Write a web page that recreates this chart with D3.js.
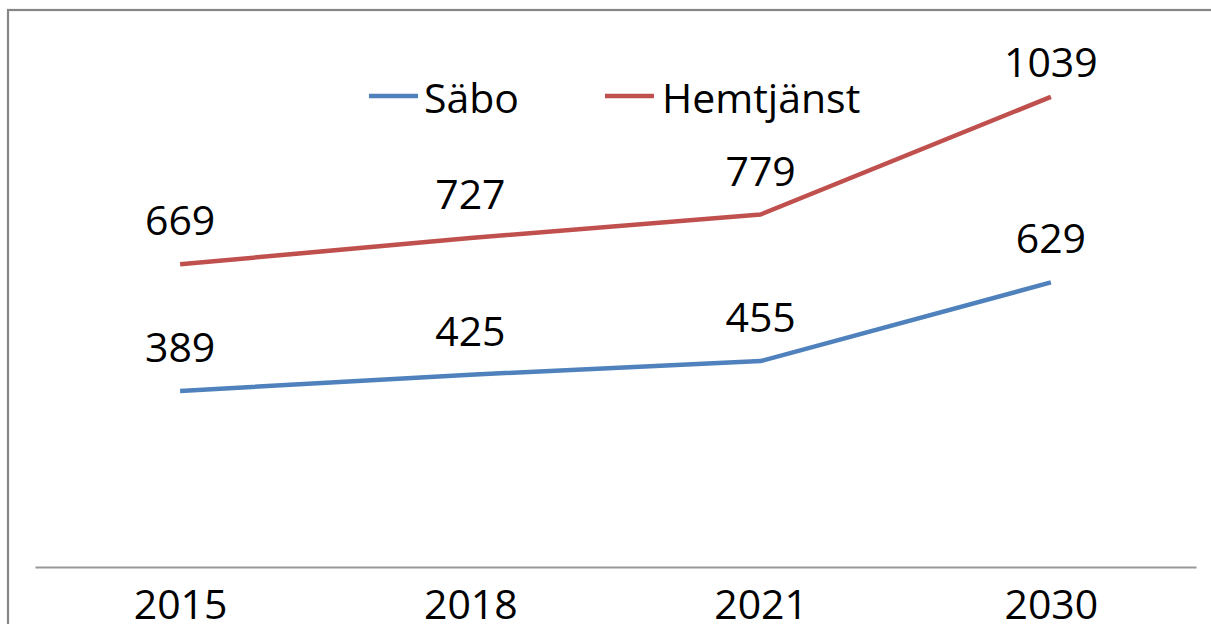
<!DOCTYPE html>
<html>
<head>
<meta charset="utf-8">
<script src="https://cdn.jsdelivr.net/npm/d3@7"></script>
<style>
html,body{margin:0;padding:0;background:#fff;overflow:hidden;}
svg{display:block;}
text{font-family:"Open Sans","Noto Sans",sans-serif;fill:#000;}
</style>
</head>
<body>
<script>
const categories = ["2015", "2018", "2021", "2030"];
const sabo = [389, 425, 455, 629];
const hemtjanst = [669, 727, 779, 1039];
const seriesNames = ["Säbo", "Hemtjänst"];
const seriesColors = ["#4F81BD", "#C0504D"];

const W = 1211, H = 624;
const svg = d3.select("body").append("svg").attr("width", W).attr("height", H);

// chart border
svg.append("rect").attr("x", 8).attr("y", 10).attr("width", 1240).attr("height", 700)
  .attr("fill", "none").attr("stroke", "#868686").attr("stroke-width", 2.2);

const x = d3.scalePoint().domain(categories).range([35, 1196]).padding(0.5);
const y = d3.scaleLinear().domain([0, 1200]).range([567, 24]);

const FS = 41;

// x axis
const ax = svg.append("g").attr("transform", "translate(0,567)")
  .call(d3.axisBottom(x).tickSize(0).tickSizeOuter(0));
ax.select(".domain").attr("stroke", "#999").attr("stroke-width", 2);
ax.selectAll(".tick text").attr("y", 52).attr("dy", 0)
  .style("font-size", FS + "px").style("font-family", "'Open Sans','Noto Sans',sans-serif").attr("fill", "#000");

const series = [
  {name: seriesNames[0], values: sabo, color: seriesColors[0]},
  {name: seriesNames[1], values: hemtjanst, color: seriesColors[1]}
];

const line = d3.line().x((d, i) => x(categories[i])).y(d => y(d));

series.forEach(s => {
  svg.append("path").datum(s.values).attr("d", line)
    .attr("fill", "none").attr("stroke", s.color).attr("stroke-width", 4.5)
    .attr("stroke-linejoin", "round");
  svg.selectAll(null).data(s.values).enter().append("text")
    .attr("x", (d, i) => x(categories[i]))
    .attr("y", d => Math.max(y(d) - 29, 77))
    .attr("text-anchor", "middle")
    .style("font-size", FS + "px")
    .text(d => d);
});

// legend
const legendItems = [
  {lx: 369, tx: 424},
  {lx: 605, tx: 662}
];
series.forEach((s, i) => {
  const L = legendItems[i];
  svg.append("line").attr("x1", L.lx).attr("x2", L.lx + 49).attr("y1", 96).attr("y2", 96)
    .attr("stroke", s.color).attr("stroke-width", 4.5);
  svg.append("text").attr("x", L.tx).attr("y", 113).style("font-size", FS + "px").text(s.name);
});
</script>
</body>
</html>
